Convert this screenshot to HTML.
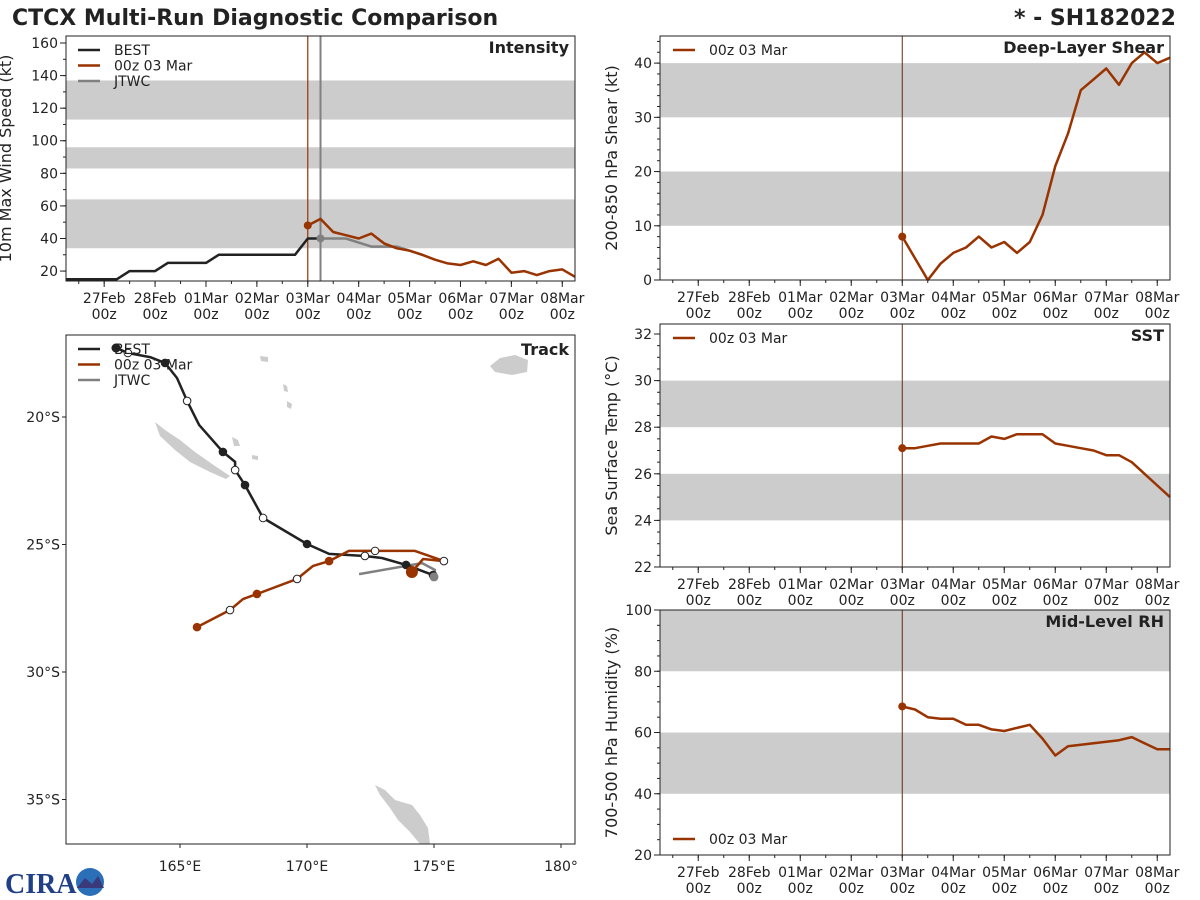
<!DOCTYPE html>
<html><head><meta charset="utf-8">
<style>
html,body{margin:0;padding:0;background:#fff;}
svg{display:block;font-family:"DejaVu Sans","Liberation Sans",sans-serif;}
</style></head>
<body>
<svg id="fig" width="1200" height="900" viewBox="0 0 1200 900">
<text x="12" y="25" font-size="22" font-weight="bold" fill="#222">CTCX Multi-Run Diagnostic Comparison</text>
<text x="1176" y="25" font-size="22" font-weight="bold" fill="#222" text-anchor="end">* - SH182022</text>
<g>
<text x="5" y="893" font-size="28" font-weight="bold" fill="#1f3f86" font-family="Liberation Serif,serif">CIRA</text>
<circle cx="90" cy="882" r="14" fill="#2a6fb8"/>
<path d="M77,888 L85,878 L92,884 L98,876 L104,888 Z" fill="#3a3a7a"/>
</g>
</svg>
<script>
// ---------- data ----------
const bestIntensity = [15,15,15,15,15,20,20,20,25,25,25,25,30,30,30,30,30,30,30,40,40];
const fcstIntensity = [48,52,44,42,40,43,37,34,32.5,30,27,24.7,23.7,26,23.7,27.5,19,20,17.5,20,21,16.5];
const jtwcIntensity = [40,40,40,37.5,35,35,35,32.5,30];
const shearValues = [8,4,0,3,5,6,8,6,7,5,7,12,21,27,35,37,39,36,40,42,40,41];
const sstValues = [27.1,27.1,27.2,27.3,27.3,27.3,27.3,27.6,27.5,27.7,27.7,27.7,27.3,27.2,27.1,27.0,26.8,26.8,26.5,26.0,25.5,25.0];
const rhValues = [68.5,67.5,65,64.5,64.5,62.5,62.5,61,60.5,61.5,62.5,58,52.5,55.5,56,56.5,57,57.5,58.5,56.5,54.5,54.5];
const dateLabels = ["27Feb","28Feb","01Mar","02Mar","03Mar","04Mar","05Mar","06Mar","07Mar","08Mar"];
const bestLon = [162.48,162.95,163.82,164.41,164.88,165.28,165.75,166.69,167.17,167.17,167.56,168.27,170.00,170.87,172.28,172.95,173.90,174.96];
const bestLat = [17.29,17.49,17.65,17.88,18.47,19.37,20.31,21.37,21.76,22.08,22.67,23.96,24.98,25.37,25.45,25.53,25.80,26.20];
const bestMark = ["f","o","","f","","o","","f","","o","f","o","f","","o","","f","f"];
const fcstLon = [174.13,174.57,175.39,174.25,173.27,172.68,171.65,170.87,170.24,169.61,168.03,167.48,166.97,165.67];
const fcstLat = [26.08,25.57,25.65,25.25,25.25,25.25,25.25,25.65,25.84,26.35,26.94,27.14,27.57,28.24];
const fcstMark = ["F","","o","","","o","","f","","o","f","","o","f"];
const jtwcLon = [175.00,175.04,174.53,172.05];
const jtwcLat = [26.27,26.0,25.73,26.16];
const lonTicks = [165,170,175,180];
const latTicks = [20,25,30,35];

const NS="http://www.w3.org/2000/svg";
const svg=document.getElementById('fig');
const BLK="#222", ORG="#993300", GRY="#808080";
function mk(tag,attrs,parent){const e=document.createElementNS(NS,tag);for(const k in attrs)e.setAttribute(k,attrs[k]);(parent||svg).appendChild(e);return e;}
function txt(x,y,s,size,anchor,parent,extra){const t=mk('text',Object.assign({x:x,y:y,'font-size':size,'text-anchor':anchor||'start',fill:'#222'},extra||{}),parent);t.textContent=s;return t;}

function makeTime(x0,x1){const pxh=(x1-x0)/240;return h=>x0+h*pxh;}

function panel(name,x0,y0,x1,y1,ymin,ymax,bands,yMajor,yMinor,yTitle,leftLabelX){
  const g=mk('g',{});
  
  
  const ys=v=>y1-(v-ymin)/(ymax-ymin)*(y1-y0);
  const xs=makeTime(x0,x1);
  bands.forEach(b=>{const r=mk('rect',{x:x0,y:ys(b[1]),width:x1-x0,height:ys(b[0])-ys(b[1]),fill:'#cccccc'},g);
    
    });
  for(let v=Math.ceil(ymin/yMinor)*yMinor;v<=ymax+1e-9;v+=yMinor){mk('line',{x1:x0-3,x2:x0,y1:ys(v),y2:ys(v),stroke:'#222'},g);}
  yMajor.forEach(v=>{mk('line',{x1:x0-6,x2:x0,y1:ys(v),y2:ys(v),stroke:'#222'},g);
    const t=txt(x0-8,ys(v)+5,String(v),14,'end',g);
    
    });
  for(let h=6;h<=240;h+=12){mk('line',{x1:xs(h),x2:xs(h),y1:y1,y2:y1+3,stroke:'#222'},g);}
  dateLabels.forEach((d,i)=>{const h=18+i*24;mk('line',{x1:xs(h),x2:xs(h),y1:y1,y2:y1+6,stroke:'#222'},g);
    const t=txt(xs(h),y1+22,d,14,'middle',g);
    
    
    const t2=txt(xs(h),y1+38,'00z',14,'middle',g);
    
    });
  const cx=leftLabelX, cy=(y0+y1)/2;
  const yt=txt(cx,cy,yTitle,16,'middle',g,{transform:`rotate(-90 ${cx} ${cy})`});
  
  
  return {g,xs,ys,frame:()=>mk('rect',{x:x0,y:y0,width:x1-x0,height:y1-y0,fill:'none',stroke:'#222','stroke-width':1},g)};
}
function series(p,vals,startH,color,name,w){
  const pts=vals.map((v,i)=>p.xs(startH+i*6).toFixed(1)+','+p.ys(v).toFixed(1)).join(' ');
  const l=mk('polyline',{points:pts,fill:'none',stroke:color,'stroke-width':w||2.5,'stroke-linejoin':'round'},p.g);
  
  
  return l;
}
function legend(g,x,y,items){items.forEach((it,i)=>{mk('line',{x1:x,x2:x+22,y1:y+i*15.5,y2:y+i*15.5,stroke:it[1],'stroke-width':2.5},g);
  const t=txt(x+36,y+i*15.5+5,it[0],14,'start',g);
  
  });}

const pI=panel('intensity',66,36,575,281,13.9,164.3,[[34,64],[83,96],[113,137]],[20,40,60,80,100,120,140,160],10,'10m Max Wind Speed (kt)',11);
mk('line',{x1:pI.xs(114),x2:pI.xs(114),y1:36,y2:281,stroke:ORG,'stroke-width':1.2},pI.g);
mk('line',{x1:pI.xs(120),x2:pI.xs(120),y1:36,y2:281,stroke:GRY,'stroke-width':2},pI.g);
series(pI,bestIntensity,0,BLK,'best-intensity-line');
series(pI,jtwcIntensity,120,GRY,'jtwc-intensity-line');
series(pI,fcstIntensity,114,ORG,'forecast-intensity-line');
mk('circle',{cx:pI.xs(114),cy:pI.ys(fcstIntensity[0]),r:4,fill:ORG},pI.g);
mk('circle',{cx:pI.xs(120),cy:pI.ys(jtwcIntensity[0]),r:4,fill:GRY},pI.g);
legend(pI.g,78,50,[['BEST',BLK],['00z 03 Mar',ORG],['JTWC',GRY]]);
txt(569,53,'Intensity',16,'end',pI.g,{'font-weight':'bold'});
pI.frame();

function rightPanel(name,y0,y1,ymin,ymax,bands,major,minor,title,vals,label){
  const p=panel(name,660,y0,1170,y1,ymin,ymax,bands,major,minor,title,617);
  mk('line',{x1:p.xs(114),x2:p.xs(114),y1:y0,y2:y1,stroke:'#6b2a10','stroke-width':1},p.g);
  series(p,vals,114,ORG,name+'-line');
  mk('circle',{cx:p.xs(114),cy:p.ys(vals[0]),r:4,fill:ORG},p.g);
  txt(1164,y0+17,label,16,'end',p.g,{'font-weight':'bold'});
  p.frame();
  return p;
}
const pS=rightPanel('shear',36,280,0,45,[[10,20],[30,40]],[0,10,20,30,40],2,'200-850 hPa Shear (kt)',shearValues,'Deep-Layer Shear');
legend(pS.g,673,50,[['00z 03 Mar',ORG]]);
const pT=rightPanel('sst',324,567,22,32.43,[[24,26],[28,30]],[22,24,26,28,30,32],0.5,'Sea Surface Temp (°C)',sstValues,'SST');
legend(pT.g,673,338,[['00z 03 Mar',ORG]]);
const pR=rightPanel('rh',610,855,20,100,[[40,60],[80,100]],[20,40,60,80,100],5,'700-500 hPa Humidity (%)',rhValues,'Mid-Level RH');
legend(pR.g,673,839,[['00z 03 Mar',ORG]]);

const tg=mk('g',{});


const lx=lon=>180+(lon-165)*25.4, ly=lat=>417+(lat-20)*25.5;
const land=[
 "155,422 165,430 180,440 195,452 215,466 230,476 226,479 210,472 190,462 175,450 160,436",
 "232,437 238,440 240,446 234,446",
 "252,455 258,456 258,460 252,459",
 "260,356 268,357 268,362 261,361",
 "283,384 287,386 288,392 284,391",
 "287,401 292,404 291,409 287,407",
 "490,366 500,358 515,355 528,360 527,372 512,375 495,372",
 "375,785 385,790 395,800 412,805 420,815 428,828 430,844 420,844 410,832 398,820 390,808 380,795"
];
land.forEach(s=>{const p=mk('polygon',{points:s,fill:'#cccccc'},tg);
  
  });
function track(lons,lats,color,name){const pts=lons.map((v,i)=>lx(v).toFixed(1)+','+ly(lats[i]).toFixed(1)).join(' ');
  const l=mk('polyline',{points:pts,fill:'none',stroke:color,'stroke-width':2.5,'stroke-linejoin':'round'},tg);
  
  }
function marks(lons,lats,m,color){m.forEach((t,i)=>{if(!t)return;
  const c=mk('circle',{cx:lx(lons[i]),cy:ly(lats[i]),r:t==='F'?5.5:3.8,fill:t==='o'?'#fff':color,stroke:t==='o'?BLK:color,'stroke-width':1},tg);
  
  });}
track(jtwcLon,jtwcLat,GRY,'jtwc-track');
track(bestLon,bestLat,BLK,'best-track');
track(fcstLon,fcstLat,ORG,'forecast-track');
marks(bestLon,bestLat,bestMark,BLK);
marks(fcstLon,fcstLat,fcstMark,ORG);
{const c=mk('circle',{cx:lx(jtwcLon[0]),cy:ly(jtwcLat[0]),r:4.5,fill:GRY},tg);

}
lonTicks.forEach(v=>{mk('line',{x1:lx(v),x2:lx(v),y1:844,y2:848,stroke:'#222'},tg);
  const t=txt(lx(v),871,v===180?'180°':v+'°E',14,'middle',tg);
  
  });
latTicks.forEach(v=>{mk('line',{x1:62,x2:66,y1:ly(v),y2:ly(v),stroke:'#222'},tg);
  const t=txt(60,ly(v)+5,v+'°S',14,'end',tg);
  
  });
legend(tg,78,349,[['BEST',BLK],['00z 03 Mar',ORG],['JTWC',GRY]]);
mk('circle',{cx:116,cy:348,r:4.5,fill:BLK},tg);
txt(569,355,'Track',16,'end',tg,{'font-weight':'bold'});
mk('rect',{x:66,y:335,width:509,height:509,fill:'none',stroke:'#222'},tg);
</script>
</body></html>
